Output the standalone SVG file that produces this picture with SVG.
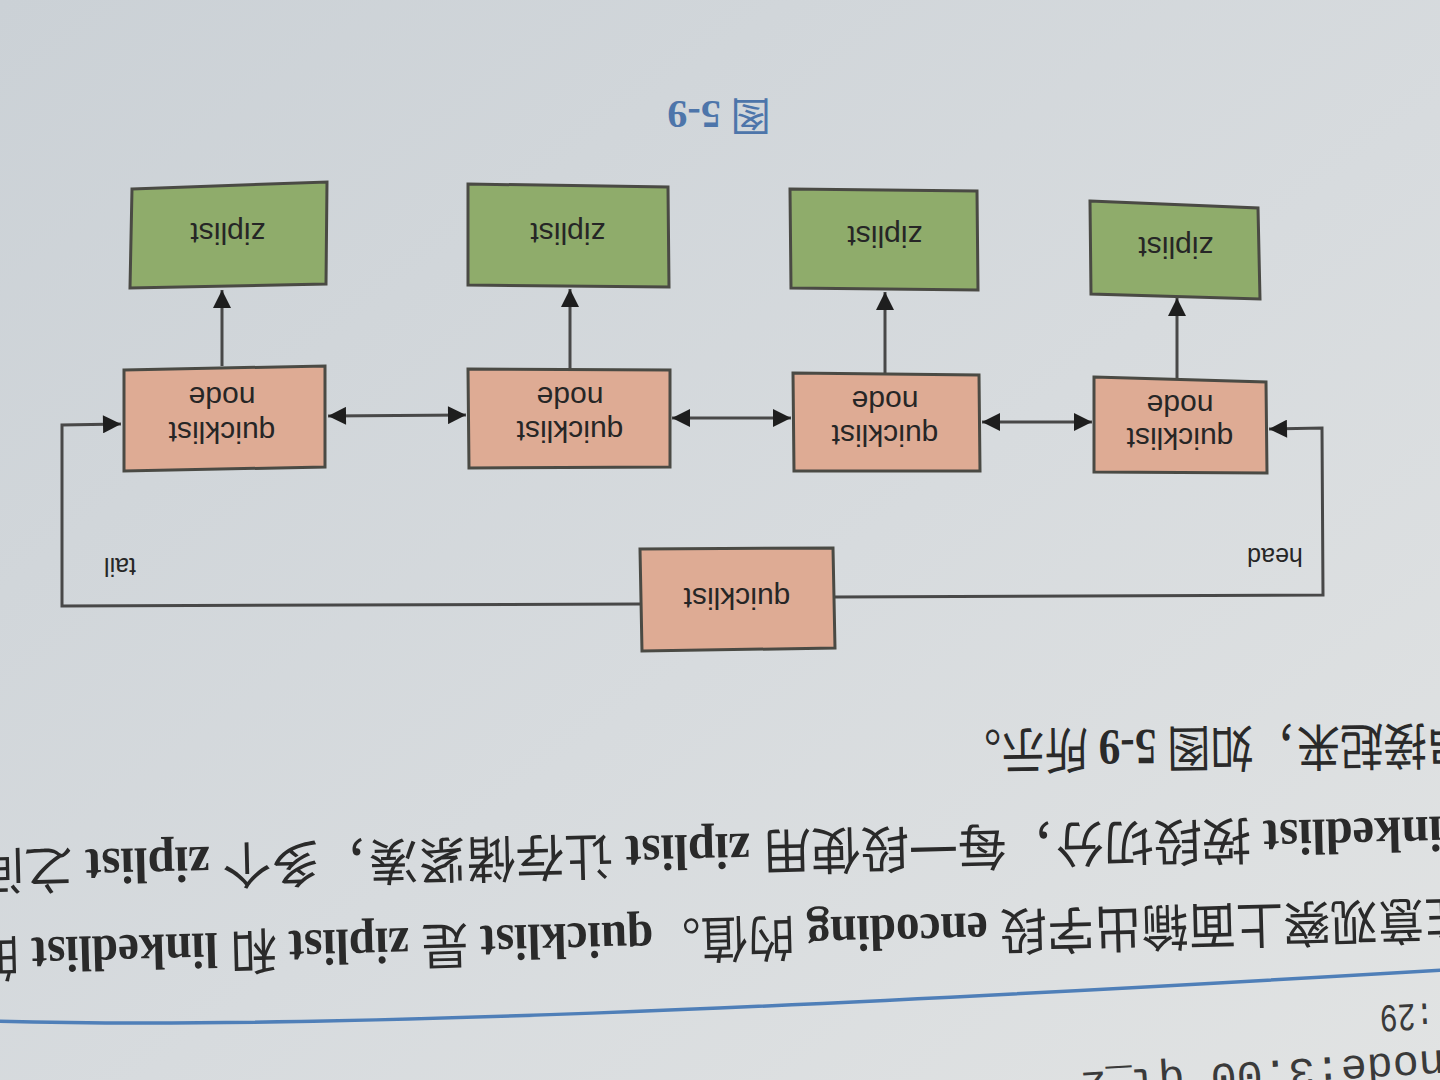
<svg xmlns="http://www.w3.org/2000/svg" width="1440" height="1080" viewBox="0 0 1440 1080">
<defs>
<linearGradient id="bg" x1="0" y1="0" x2="1" y2="1">
<stop offset="0" stop-color="#cbd1d6"/>
<stop offset="0.55" stop-color="#d7dbde"/>
<stop offset="1" stop-color="#e1e3e3"/>
</linearGradient>
<marker id="ah" viewBox="0 0 10 10" refX="10" refY="5" markerWidth="22" markerHeight="18" markerUnits="userSpaceOnUse" orient="auto-start-reverse">
<path d="M0,0 L10,5 L0,10 z" fill="#1e1e1e"/>
</marker>
</defs>
<style>
.zl{fill:#8fac6b;stroke:#4a4a44;stroke-width:3}
.qn{fill:#deab94;stroke:#4a4a44;stroke-width:3}
.lb{font-family:"Liberation Sans",Arial,sans-serif;font-size:30px;fill:#262626;text-anchor:middle;dominant-baseline:central}
.sm{font-size:25px}
.cn{fill:none;stroke:#484848;stroke-width:3}
.body{font-family:"Liberation Serif","Noto Sans CJK SC",serif;font-size:46px;fill:#2a2a2a;dominant-baseline:central}
.lat{font-weight:bold}
.mono{font-family:"Liberation Mono","Courier New",monospace;fill:#3a3a3a}
.cap{font-family:"Liberation Serif","Noto Sans CJK SC",serif;font-size:40px;fill:#4d75aa;text-anchor:middle;dominant-baseline:central}
</style>
<rect width="1440" height="1080" fill="url(#bg)"/>

<g id="caption">
<text class="cap" x="719" y="115" transform="rotate(180 719 115)">图 <tspan class="lat">5-9</tspan></text>
</g>

<g id="connectors">
<path class="cn" d="M640,604 L62,606 L62,425 L121,424" marker-end="url(#ah)"/>
<path class="cn" d="M835,597 L1323,595 L1322,428 L1269,429" marker-end="url(#ah)"/>
<path class="cn" d="M328,416 L466,415" marker-start="url(#ah)" marker-end="url(#ah)"/>
<path class="cn" d="M672,418 L791,418" marker-start="url(#ah)" marker-end="url(#ah)"/>
<path class="cn" d="M982,422 L1092,422" marker-start="url(#ah)" marker-end="url(#ah)"/>
<path class="cn" d="M222,366 L222,290" marker-end="url(#ah)"/>
<path class="cn" d="M570,369 L570,289" marker-end="url(#ah)"/>
<path class="cn" d="M885,373 L885,292" marker-end="url(#ah)"/>
<path class="cn" d="M1177,378 L1177,298" marker-end="url(#ah)"/>
<text class="lb sm" x="120" y="567" transform="rotate(180 120 567)">tail</text>
<text class="lb sm" x="1275" y="557" transform="rotate(180 1275 557)">head</text>
</g>

<g id="ziplist1">
<polygon class="zl" points="132,189 327,182 326,284 130,288"/>
<text class="lb" x="228" y="233" transform="rotate(180 228 233)">ziplist</text>
</g>
<g id="ziplist2">
<polygon class="zl" points="468,184 668,187 669,287 468,285"/>
<text class="lb" x="568" y="233" transform="rotate(180 568 233)">ziplist</text>
</g>
<g id="ziplist3">
<polygon class="zl" points="790,189 977,191 978,290 791,288"/>
<text class="lb" x="885" y="236" transform="rotate(180 885 236)">ziplist</text>
</g>
<g id="ziplist4">
<polygon class="zl" points="1090,201 1258,208 1260,299 1091,294"/>
<text class="lb" x="1176" y="247" transform="rotate(180 1176 247)">ziplist</text>
</g>

<g id="qnode1">
<polygon class="qn" points="124,370 325,366 325,467 124,471"/>
<text class="lb" x="222" y="432" transform="rotate(180 222 432)">quicklist</text>
<text class="lb" x="222" y="397" transform="rotate(180 222 397)">node</text>
</g>
<g id="qnode2">
<polygon class="qn" points="468,369 670,370 670,467 469,468"/>
<text class="lb" x="570" y="431" transform="rotate(180 570 431)">quicklist</text>
<text class="lb" x="570" y="397" transform="rotate(180 570 397)">node</text>
</g>
<g id="qnode3">
<polygon class="qn" points="793,373 979,375 980,471 794,471"/>
<text class="lb" x="885" y="435" transform="rotate(180 885 435)">quicklist</text>
<text class="lb" x="885" y="401" transform="rotate(180 885 401)">node</text>
</g>
<g id="qnode4">
<polygon class="qn" points="1094,377 1266,382 1267,473 1094,472"/>
<text class="lb" x="1180" y="438" transform="rotate(180 1180 438)">quicklist</text>
<text class="lb" x="1180" y="405" transform="rotate(180 1180 405)">node</text>
</g>

<g id="quicklist">
<polygon class="qn" points="640,549 833,548 835,648 642,651"/>
<text class="lb" x="737" y="598" transform="rotate(180 737 598)">quicklist</text>
</g>

<g id="page-text">
<text class="body" x="0" y="0" textLength="512" lengthAdjust="spacingAndGlyphs" transform="translate(1470 744) rotate(179.3) scale(1 1.1)">串接起来，如图 <tspan class="lat">5-9</tspan> 所示。</text>
<text class="body" x="0" y="0" textLength="1481" lengthAdjust="spacingAndGlyphs" transform="translate(1456 834) rotate(178.6) scale(1 1.1)"><tspan class="lat">linkedlist</tspan> 按段切分，每一段使用 <tspan class="lat">ziplist</tspan> 让存储紧凑，多个 <tspan class="lat">ziplist</tspan> 之间</text>
<text class="body" x="0" y="0" textLength="1500" lengthAdjust="spacingAndGlyphs" transform="translate(1472 918) rotate(178.5) scale(1 1.1)">注意观察上面输出字段 <tspan class="lat">encoding</tspan> 的值。<tspan class="lat">quicklist</tspan> 是 <tspan class="lat">ziplist</tspan> 和 <tspan class="lat">linkedlist</tspan> 的</text>
<path d="M-5,1021 C300,1030 800,1008 1445,970" fill="none" stroke="#4f7fb8" stroke-width="3.5"/>
<text class="mono" x="0" y="0" font-size="30" transform="translate(1433 1003) rotate(177) scale(1 1.3)">:29</text>
<text class="mono" x="0" y="0" font-size="37" textLength="365" lengthAdjust="spacingAndGlyphs" transform="translate(1444 1050) rotate(176.4) scale(1 1.15)">node:3.00 ql_z</text>
</g>
</svg>
